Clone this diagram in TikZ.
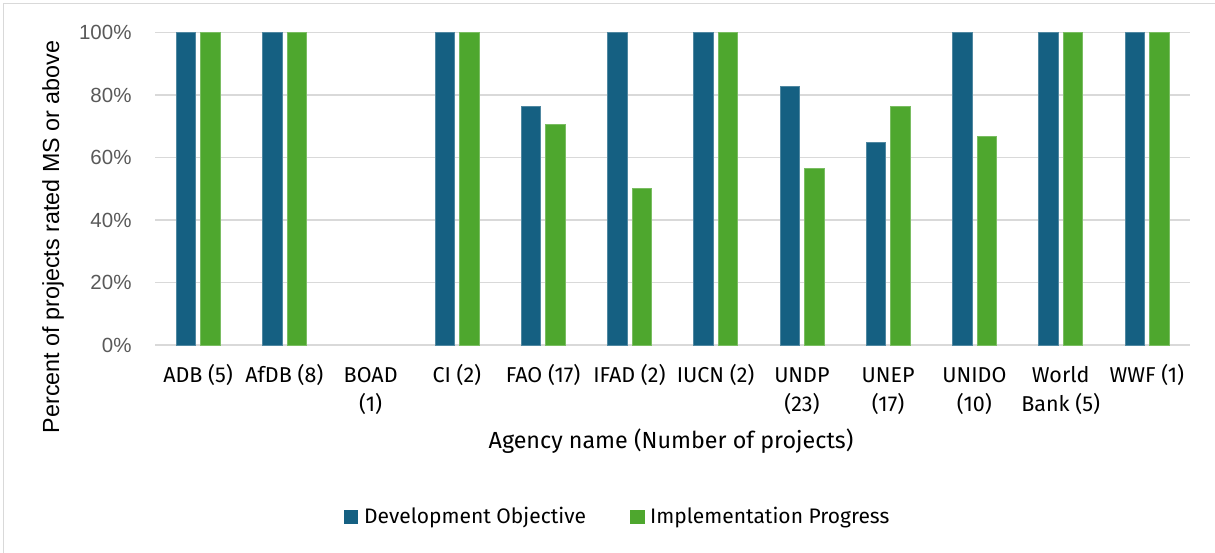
\documentclass[tikz,border=0pt]{standalone}
\usepackage{fontspec}
\setmainfont{Fira Sans}
\newfontfamily\arialf{Liberation Sans}
\definecolor{doblue}{HTML}{156082}
\definecolor{ipgreen}{HTML}{4EA72E}
\definecolor{gridgray}{HTML}{D9D9D9}
\definecolor{ticktext}{HTML}{595959}
\definecolor{labtext}{HTML}{000000}
\newcommand{\catcell}[1]{\setlength{\tabcolsep}{0pt}\renewcommand{\arraystretch}{1}\begin{tabular}[t]{c}#1\end{tabular}}
\begin{document}
\begin{tikzpicture}[x=1pt,y=1pt,
  gridline/.style={draw=gridgray,line width=1.4pt},
  ticklab/.style={anchor=base east,inner sep=0pt,text=ticktext,font=\arialf\fontsize{20.5}{24}\selectfont},
  catlab/.style={anchor=base,inner sep=0pt,text=labtext,font=\fontsize{21.5}{29.5}\selectfont},
  axtitle/.style={anchor=base,inner sep=0pt,text=labtext},
  dobar/.style={fill=doblue,draw=doblue!75!white,line width=0.6pt},
  ipbar/.style={fill=ipgreen,draw=ipgreen!75!white,line width=0.6pt},
  legtext/.style={anchor=base west,inner sep=0pt,text=labtext,font=\fontsize{21}{24}\selectfont}]
\useasboundingbox (0,0) rectangle (1215,552);
% outer frame
\draw[draw=gridgray,line width=1.2pt] (3.5,-20) rectangle (1235,548.5);
% grid and tick labels
\foreach \v/\t in {0/0\%,20/20\%,40/40\%,60/60\%,80/80\%,100/100\%}{
  \draw[gridline] (155,207+3.127*\v) -- (1190,207+3.127*\v);
  \node[ticklab] (tick\v) at (131.7,207+3.127*\v-7.3) {\t};
}
% bars
\foreach \i/\d/\g in {1/100/100,2/100/100,3/0/0,4/100/100,5/76.47/70.59,6/100/50,7/100/100,8/82.61/56.52,9/64.71/76.47,10/100/66.67,11/100/100,12/100/100}{
  \pgfmathsetmacro\cx{155+(\i-0.5)*86.25}
  \ifdim\d pt>0pt
    \path[dobar] (\cx-22,207) rectangle (\cx-2.5,207+3.127*\d);
  \fi
  \ifdim\g pt>0pt
    \path[ipbar] (\cx+2.5,207) rectangle (\cx+22,207+3.127*\g);
  \fi
}
% category labels
\foreach \i/\t in {1/{ADB (5)},2/{AfDB (8)},3/{BOAD\\(1)},4/{CI (2)},5/{FAO (17)},6/{IFAD (2)},7/{IUCN (2)},8/{UNDP\\(23)},9/{UNEP\\(17)},10/{UNIDO\\(10)},11/{World\\Bank (5)},12/{WWF (1)}}{
  \pgfmathsetmacro\cx{155+(\i-0.5)*86.25}
  \node[catlab] (cat\i) at (\cx,170) {\catcell{\t}};
}
% axis titles
\node[axtitle,font=\fontsize{23.3}{28}\selectfont] (xtitle) at (671,104) {Agency name (Number of projects)};
\node[axtitle,rotate=90,font=\arialf\fontsize{23.3}{28}\selectfont] (ytitle) at (59,315) {Percent of projects rated MS or above};
% legend
\fill[doblue] (344,28) rectangle (358,42);
\node[legtext] (leg1) at (364,28.5) {Development Objective};
\fill[ipgreen] (630,28) rectangle (644.5,42);
\node[legtext] (leg2) at (650,28.5) {Implementation Progress};
\end{tikzpicture}
\end{document}
